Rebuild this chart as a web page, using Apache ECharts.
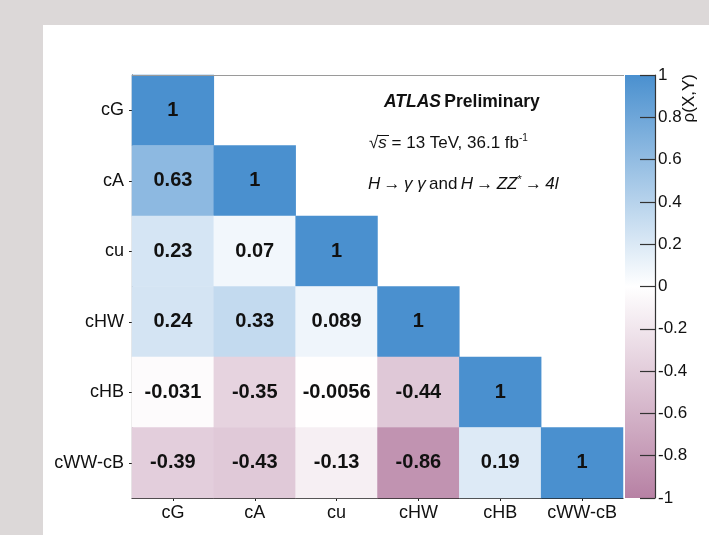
<!DOCTYPE html>
<html>
<head>
<meta charset="utf-8">
<script src="https://cdn.jsdelivr.net/npm/echarts@6/dist/echarts.min.js"></script>
<style>
  html, body { margin: 0; padding: 0; background: #dcd8d8; }
  #chart { width: 709px; height: 535px; }
</style>
</head>
<body>
<div id="chart"></div>
<script>
// Parameters of the fit (x axis left to right, y axis top to bottom)
const params = ['cG', 'cA', 'cu', 'cHW', 'cHB', 'cWW-cB'];

// Lower-triangle correlation coefficients, one row per parameter
const rowCG   = [1];
const rowCA   = [0.63, 1];
const rowCU   = [0.23, 0.07, 1];
const rowCHW  = [0.24, 0.33, 0.089, 1];
const rowCHB  = [-0.031, -0.35, -0.0056, -0.44, 1];
const rowCWW  = [-0.39, -0.43, -0.13, -0.86, 0.19, 1];
const corrRows = [rowCG, rowCA, rowCU, rowCHW, rowCHB, rowCWW];

// Colour scale range and tick step of the palette axis
const zRange = [-1, 1];
const zStep = 0.2;

const NEG = '#b781a4', MID = '#ffffff', POS = '#4a90cf';

const cells = [];
corrRows.forEach((row, r) => {
  row.forEach((v, c) => cells.push([c, r, v]));
});

const chart = echarts.init(document.getElementById('chart'), null, { renderer: 'canvas' });

const FONT = '"Liberation Sans", Arial, Helvetica, sans-serif';

chart.setOption({
  backgroundColor: '#dcd8d8',
  animation: false,
  textStyle: { fontFamily: FONT },
  graphic: [
    { type: 'rect', z: -10, shape: { x: 43, y: 25, width: 666, height: 510 }, style: { fill: '#ffffff' } },
    // frame line along the top of the matrix
    { type: 'line', z: 5, shape: { x1: 132, y1: 75.5, x2: 624, y2: 75.5 }, style: { stroke: '#9a9a9a', lineWidth: 1 } },
    {
      type: 'text', left: 384, top: 93, z: 10,
      style: {
        text: '{a|ATLAS} {b|Preliminary}',
        rich: {
          a: { fontFamily: FONT, fontSize: 17.5, fontWeight: 'bold', fontStyle: 'italic', fill: '#111' },
          b: { fontFamily: FONT, fontSize: 17.5, fontWeight: 'bold', fill: '#111' }
        }
      }
    },
    {
      type: 'text', left: 369, top: 133, z: 10,
      style: {
        text: '{r|√}{i|s}{r| = 13 TeV, 36.1 fb}{s|-1}',
        rich: {
          r: { fontFamily: FONT, fontSize: 17, fill: '#111', lineHeight: 20 },
          i: { fontFamily: FONT, fontSize: 17, fontStyle: 'italic', fill: '#111', lineHeight: 20 },
          s: { fontFamily: FONT, fontSize: 10, fill: '#111', verticalAlign: 'top', lineHeight: 20 }
        }
      }
    },
    // overline of the square root
    { type: 'line', z: 10, shape: { x1: 378, y1: 135.5, x2: 389, y2: 135.5 }, style: { stroke: '#111', lineWidth: 1 } },
    {
      type: 'text', left: 368, top: 174, z: 10,
      style: {
        text: '{i|H} {r|→} {i|γ γ} {r|and} {i|H} {r|→} {i|ZZ}{s|*} {r|→} {i|4l}',
        rich: {
          r: { fontFamily: FONT, fontSize: 17, fill: '#111', lineHeight: 20 },
          i: { fontFamily: FONT, fontSize: 17, fontStyle: 'italic', fill: '#111', lineHeight: 20 },
          s: { fontFamily: FONT, fontSize: 11, fill: '#111', verticalAlign: 'top', lineHeight: 20 }
        }
      }
    },
    {
      type: 'text', x: 689, y: 74, rotation: Math.PI / 2, z: 10,
      style: {
        text: 'ρ(X,Y)', fontFamily: FONT, fontSize: 17, fill: '#111',
        align: 'right', verticalAlign: 'middle'
      }
    }
  ],
  grid: [
    { left: 132, top: 75, width: 491, height: 423 },
    { left: 625, top: 75, width: 30, height: 423 }
  ],
  xAxis: [
    {
      gridIndex: 0, type: 'category', data: params, position: 'bottom',
      axisLine: { show: true, lineStyle: { color: '#222', width: 1.2 } },
      axisTick: { show: true, alignWithLabel: true, length: 3, lineStyle: { color: '#222' } },
      axisLabel: { color: '#111', fontSize: 18, margin: 6, fontFamily: FONT, interval: 0 },
      splitLine: { show: false }
    },
    { gridIndex: 1, type: 'value', min: 0, max: 1, show: false }
  ],
  yAxis: [
    {
      gridIndex: 0, type: 'category', data: params, inverse: true,
      axisLine: { show: true, lineStyle: { color: '#222', width: 1.2 } },
      axisTick: { show: true, alignWithLabel: true, length: 3, lineStyle: { color: '#222' } },
      axisLabel: { color: '#111', fontSize: 18, margin: 8, fontFamily: FONT, interval: 0 },
      splitLine: { show: false }
    },
    {
      gridIndex: 1, type: 'value', min: zRange[0], max: zRange[1], interval: zStep,
      position: 'right', z: 6,
      axisLine: { show: true, onZero: false, lineStyle: { color: '#333', width: 1.2 } },
      axisTick: { show: true, inside: true, length: 15, lineStyle: { color: '#333', width: 1.2 } },
      axisLabel: {
        color: '#111', fontSize: 17, margin: 3, fontFamily: FONT,
        formatter: v => String(Math.round(v * 10) / 10)
      },
      splitLine: { show: false }
    }
  ],
  visualMap: {
    show: false, type: 'continuous', seriesIndex: 0,
    min: zRange[0], max: zRange[1], dimension: 2,
    inRange: { color: [NEG, MID, POS] }
  },
  series: [
    {
      type: 'heatmap', xAxisIndex: 0, yAxisIndex: 0,
      data: cells,
      label: {
        show: true, color: '#111', fontSize: 20, fontWeight: 'bold', fontFamily: FONT,
        formatter: p => String(p.value[2])
      },
      itemStyle: { borderWidth: 0 },
      emphasis: { disabled: true }
    },
    {
      // palette bar spanning the full colour range
      type: 'custom', xAxisIndex: 1, yAxisIndex: 1,
      data: [[zRange[0], zRange[1]]],
      z: 1,
      renderItem: (params, api) => {
        const topLeft = api.coord([0, api.value(1)]);
        const botRight = api.coord([1, api.value(0)]);
        return {
          type: 'rect',
          shape: { x: topLeft[0], y: topLeft[1], width: botRight[0] - topLeft[0], height: botRight[1] - topLeft[1] },
          style: {
            fill: new echarts.graphic.LinearGradient(0, 0, 0, 1, [
              { offset: 0, color: POS },
              { offset: 0.5, color: MID },
              { offset: 1, color: NEG }
            ])
          }
        };
      }
    }
  ]
});
</script>
</body>
</html>
